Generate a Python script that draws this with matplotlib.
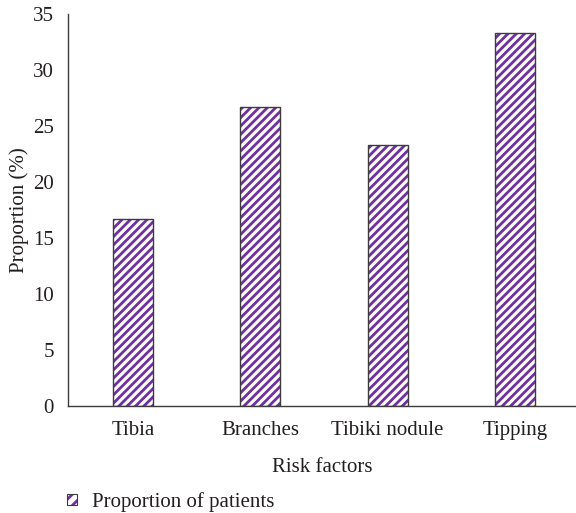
import matplotlib
matplotlib.use("Agg")
import matplotlib.pyplot as plt
from matplotlib.patches import Patch

categories = ["Tibia", "Branches", "Tibiki nodule", "Tipping"]
proportions = [16.7, 26.7, 23.3, 33.3]
yticks = [0, 5, 10, 15, 20, 25, 30, 35]

purple = "#7030a0"
outline = "#3c3c3c"
text_color = "#231f20"
fs = 15

plt.rcParams["font.family"] = ["Liberation Serif", "DejaVu Serif"]
plt.rcParams["hatch.linewidth"] = 2.0

W, H = 576, 513
fig = plt.figure(figsize=(W / 100, H / 100), dpi=100)
# axes box in pixels: left 68, right 576, top 14, bottom 406
ax = fig.add_axes([68 / W, 1 - 406 / H, (576 - 68) / W, (406 - 14) / H])

x = list(range(len(categories)))
bar_w = 0.315
ax.bar(x, proportions, width=bar_w, color="white", edgecolor=purple,
       hatch="////", linewidth=0)
ax.bar(x, proportions, width=bar_w, fill=False, edgecolor=outline, linewidth=1.0)

ax.set_xlim(-0.51, 3.48)
ax.set_ylim(0, 35)
ax.set_yticks(yticks)
ax.set_xticks(x)
ax.set_xticklabels(categories)
ax.tick_params(length=0, labelsize=fs, colors=text_color)
ax.tick_params(axis="x", pad=11)
ax.tick_params(axis="y", pad=10)
for s in ("top", "right"):
    ax.spines[s].set_visible(False)
for s in ("left", "bottom"):
    ax.spines[s].set_color(outline)
    ax.spines[s].set_linewidth(1.0)

ax.set_xlabel("Risk factors", fontsize=fs, color=text_color, labelpad=13)
ax.set_ylabel("Proportion (%)", fontsize=fs, color=text_color, labelpad=3)

hatch_patch = Patch(facecolor="white", edgecolor=purple, hatch="///", linewidth=0)
edge_patch = Patch(fill=False, edgecolor=outline, linewidth=0.8)
fig.legend([(hatch_patch, edge_patch)], ["Proportion of patients"],
           loc="center left", bbox_to_anchor=(67 / W, 1 - 502 / H),
           frameon=False, fontsize=fs, labelcolor=text_color,
           borderpad=0, borderaxespad=0,
           handlelength=0.5, handleheight=0.5, handletextpad=0.7)

fig.savefig("out.png", dpi=100)
